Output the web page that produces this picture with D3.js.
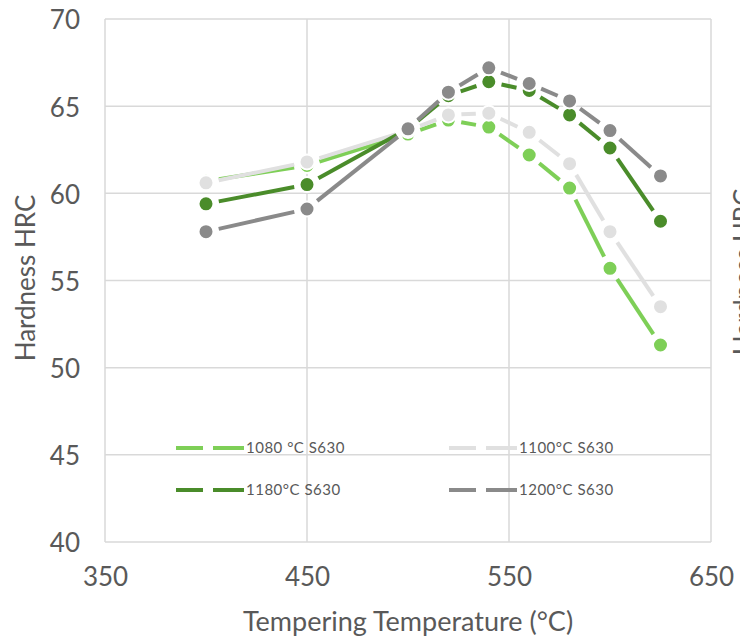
<!DOCTYPE html>
<html>
<head>
    <title>Hardness vs Tempering Temperature</title>
    <script src="https://d3js.org/d3.v7.min.js"></script>
    <style>
        body { margin: 0; background: #fff; font-family: Lato, "Open Sans", sans-serif; }
        svg { display: block; }
        text { font-family: Lato, "Open Sans", sans-serif; }
    </style>
</head>
<body>
<div class="chart"></div>

<script>
    // tempering temperatures (°C)
    const temps = [400, 450, 500, 520, 540, 560, 580, 600, 625];

    // hardness HRC for each austenitizing temperature
    const hrc1080 = [60.7, 61.6, 63.4, 64.2, 63.8, 62.2, 60.3, 55.7, 51.3];
    const hrc1100 = [60.6, 61.8, 63.6, 64.5, 64.6, 63.5, 61.7, 57.8, 53.5];
    const hrc1180 = [59.4, 60.5, 63.7, 65.6, 66.4, 65.9, 64.5, 62.6, 58.4];
    const hrc1200 = [57.8, 59.1, 63.7, 65.8, 67.2, 66.3, 65.3, 63.6, 61.0];

    const seriesNames = ["1080 °C S630", "1100°C S630", "1180°C S630", "1200°C S630"];
    const seriesColors = ["#7ecf57", "#e0e0e0", "#4a8c2a", "#8a8a8a"];

    const xTicks = [350, 450, 550, 650];
    const yTicks = [40, 45, 50, 55, 60, 65, 70];

    const series = [hrc1080, hrc1100, hrc1180, hrc1200].map((vals, i) => ({
        name: seriesNames[i],
        color: seriesColors[i],
        values: temps.map((t, j) => ({t: t, v: vals[j]}))
    }));

    const W = 740, H = 639;
    const svg = d3.select(".chart").append("svg").attr("width", W).attr("height", H),
        margin = {top: 19, right: 29, bottom: 97, left: 105},
        width = W - margin.left - margin.right,
        height = H - margin.top - margin.bottom,
        g = svg.append("g").attr("transform", "translate(" + margin.left + "," + margin.top + ")");

    const x = d3.scaleLinear().domain([350, 650]).range([0, width]);
    const y = d3.scaleLinear().domain([40, 70]).range([height, 0]);

    // gridlines
    g.append("g")
        .selectAll("line").data(yTicks).enter().append("line")
        .attr("x1", 0).attr("x2", width)
        .attr("y1", d => y(d)).attr("y2", d => y(d))
        .attr("stroke", "#d9d9d9").attr("stroke-width", 1.5);
    g.append("g")
        .selectAll("line").data(xTicks).enter().append("line")
        .attr("y1", 0).attr("y2", height)
        .attr("x1", d => x(d)).attr("x2", d => x(d))
        .attr("stroke", "#d9d9d9").attr("stroke-width", 1.5);

    // axes (labels only)
    const yAxis = g.append("g")
        .call(d3.axisLeft(y).tickValues(yTicks).tickSize(0).tickPadding(25));
    yAxis.select(".domain").remove();
    yAxis.attr("font-family", null);
    yAxis.selectAll("text")
        .attr("fill", "#595959")
        .style("font-size", "26px")
        .attr("dy", "0.38em");

    const xAxis = g.append("g")
        .attr("transform", "translate(0," + height + ")")
        .call(d3.axisBottom(x).tickValues(xTicks).tickSize(0).tickPadding(26));
    xAxis.select(".domain").remove();
    xAxis.attr("font-family", null);
    xAxis.selectAll("text")
        .attr("fill", "#595959")
        .style("font-size", "26px");

    // axis titles
    svg.append("text")
        .attr("x", margin.left + x(500))
        .attr("y", 631)
        .attr("text-anchor", "middle")
        .attr("fill", "#595959")
        .style("font-size", "27px")
        .text("Tempering Temperature (°C)");

    svg.append("text")
        .attr("transform", "translate(35,278) rotate(-90)")
        .attr("text-anchor", "middle")
        .attr("fill", "#595959")
        .style("font-size", "26px")
        .text("Hardness HRC");

    // secondary title, mostly outside the frame
    svg.append("text")
        .attr("transform", "translate(753,272) rotate(-90)")
        .attr("text-anchor", "middle")
        .attr("fill", "#595959")
        .style("font-size", "26px")
        .text("Hardness HRC");

    // lines: each segment drawn on its own, pulled back from the markers
    const inset = 13;
    series.forEach(function(s) {
        const sg = g.append("g");
        const segs = d3.pairs(s.values);
        sg.selectAll("line").data(segs).enter().append("line")
            .each(function(p) {
                const x0 = x(p[0].t), y0 = y(p[0].v), x1 = x(p[1].t), y1 = y(p[1].v);
                const len = Math.hypot(x1 - x0, y1 - y0);
                const ux = (x1 - x0) / len, uy = (y1 - y0) / len;
                d3.select(this)
                    .attr("x1", x0 + ux * inset).attr("y1", y0 + uy * inset)
                    .attr("x2", x1 - ux * inset).attr("y2", y1 - uy * inset);
            })
            .attr("stroke", s.color)
            .attr("stroke-width", 4);

        sg.selectAll("circle").data(s.values).enter().append("circle")
            .attr("cx", d => x(d.t))
            .attr("cy", d => y(d.v))
            .attr("r", 7.5)
            .attr("fill", s.color)
            .attr("stroke", "#fff")
            .attr("stroke-width", 2);
    });

    // legend
    const legendPos = [[176, 448], [449, 448], [176, 490], [449, 490]];
    const legend = svg.selectAll(".legend")
        .data(series)
        .enter().append("g")
        .attr("class", "legend")
        .attr("transform", (d, i) => "translate(" + legendPos[i][0] + "," + legendPos[i][1] + ")");

    legend.append("line")
        .attr("x1", 0).attr("x2", 27).attr("y1", 0).attr("y2", 0)
        .attr("stroke", d => d.color).attr("stroke-width", 4);
    legend.append("line")
        .attr("x1", 37).attr("x2", 68).attr("y1", 0).attr("y2", 0)
        .attr("stroke", d => d.color).attr("stroke-width", 4);
    legend.append("text")
        .attr("x", 70)
        .attr("y", 0)
        .attr("dy", ".35em")
        .attr("fill", "#595959")
        .style("font-size", "15px")
        .style("letter-spacing", "0.5px")
        .text(d => d.name);
</script>
</body>
</html>
